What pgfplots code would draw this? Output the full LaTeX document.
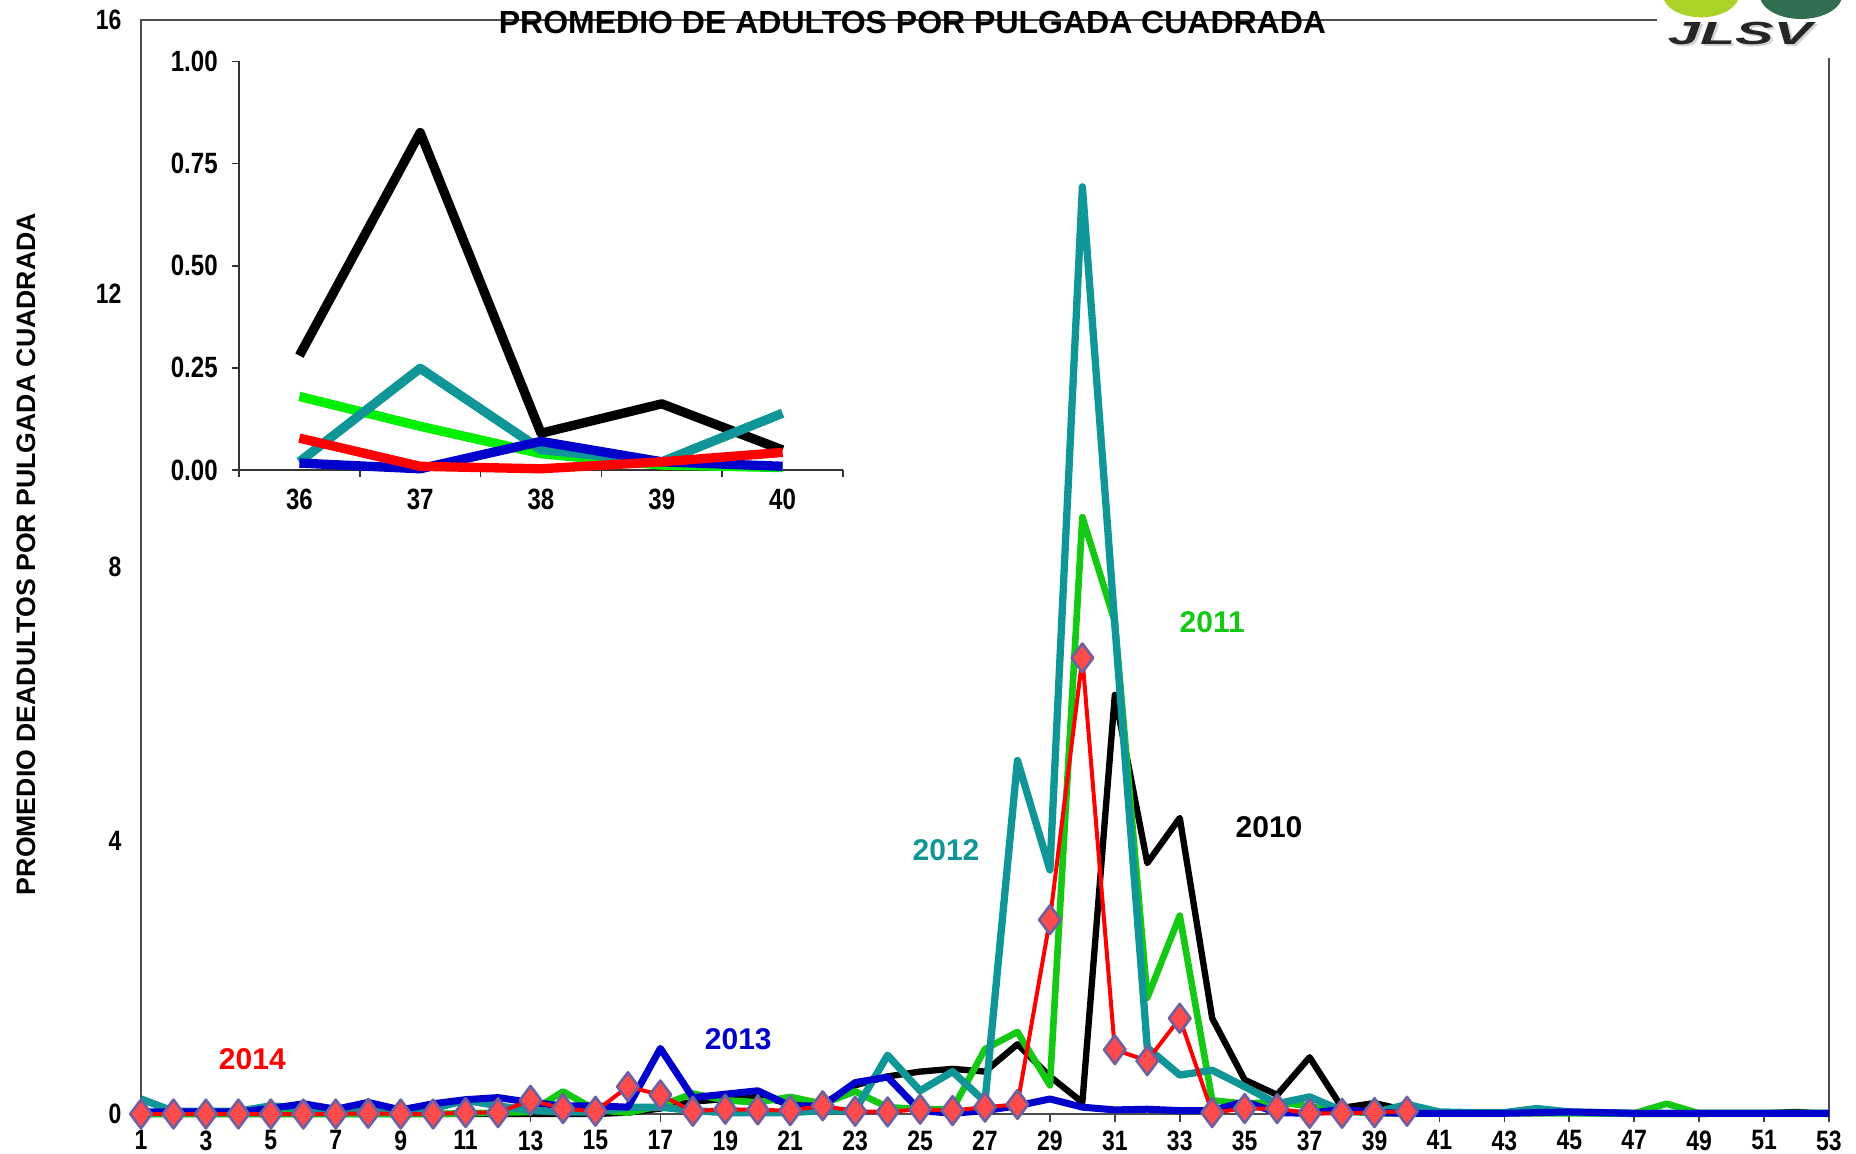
\documentclass[border=0pt]{standalone}
\usepackage{fontspec}
\setmainfont{Liberation Sans}
\newfontfamily\narrow[FakeStretch=0.82]{Liberation Sans}
\usepackage{graphicx}
\usepackage{pgfplots}
\usepackage{pgfplotstable}
\pgfplotsset{compat=1.18}

\definecolor{cK}{RGB}{0,0,0}
\definecolor{cG}{RGB}{20,200,20}
\definecolor{cGi}{RGB}{0,240,0}
\definecolor{cT}{RGB}{16,150,150}
\definecolor{cB}{RGB}{0,0,205}
\definecolor{cR}{RGB}{255,0,0}
\definecolor{dfill}{RGB}{255,75,75}
\definecolor{dedge}{RGB}{112,96,160}
\definecolor{lgreen}{RGB}{170,210,40}
\definecolor{dgreen}{RGB}{50,110,80}

\pgfplotstableread{
w  k    g    t     b    r
1  0.00 0.00 0.22  0.03 0.00
2  0.00 0.00 0.04  0.03 0.00
3  0.00 0.00 0.04  0.03 0.00
4  0.00 0.00 0.04  0.03 0.00
5  0.00 0.00 0.12  0.08 0.00
6  0.00 0.00 0.08  0.15 0.00
7  0.00 0.00 0.04  0.07 0.00
8  0.00 0.00 0.08  0.17 0.01
9  0.00 0.00 0.03  0.06 0.00
10 0.00 0.00 0.08  0.15 0.00
11 0.00 0.01 0.20  0.21 0.02
12 0.00 0.02 0.12  0.24 0.02
13 0.00 0.03 0.05  0.17 0.20
14 0.00 0.33 0.03  0.12 0.08
15 0.00 0.06 0.03  0.12 0.04
16 0.02 0.02 0.10  0.10 0.40
17 0.08 0.12 0.10  0.96 0.28
18 0.18 0.30 0.05  0.24 0.04
19 0.22 0.20 0.02  0.29 0.07
20 0.26 0.17 0.02  0.34 0.06
21 0.15 0.25 0.02  0.12 0.05
22 0.15 0.15 0.05  0.12 0.12
23 0.42 0.33 0.05  0.46 0.04
24 0.55 0.10 0.86  0.54 0.03
25 0.62 0.07 0.34  0.05 0.07
26 0.66 0.07 0.62  0.01 0.05
27 0.62 0.95 0.18  0.05 0.10
28 1.02 1.20 5.17  0.12 0.14
29 0.55 0.42 3.57  0.22 2.84
30 0.17 8.73 13.56 0.10 6.67
31 6.13 7.20 7.15  0.06 0.94
32 3.67 1.70 0.97  0.07 0.78
33 4.33 2.90 0.57  0.05 1.40
34 1.40 0.20 0.64  0.05 0.02
35 0.50 0.15 0.40  0.18 0.08
36 0.28 0.18 0.15  0.02 0.08
37 0.83 0.11 0.25  0.01 0.01
38 0.09 0.04 0.05  0.07 0.01
39 0.16 0.01 0.02  0.02 0.02
40 0.05 0.01 0.14  0.01 0.04
41 0.02 0.01 0.03  0.01 nan
42 0.01 0.01 0.02  0.01 nan
43 0.02 0.01 0.02  0.01 nan
44 0.02 0.01 0.08  0.02 nan
45 0.02 0.01 0.03  0.03 nan
46 0.01 0.01 0.02  0.02 nan
47 0.00 0.01 0.01  0.01 nan
48 0.00 0.15 0.01  0.01 nan
49 0.00 0.01 0.01  0.01 nan
50 0.01 0.01 0.01  0.01 nan
51 0.01 0.01 0.01  0.01 nan
52 0.03 0.01 0.01  0.01 nan
53 0.00 0.01 0.01  0.01 nan
}\maintab

\pgfplotstableread{
w  k     g     t     b     r
36 0.280 0.180 0.020 0.017 0.078
37 0.826 0.107 0.249 0.003 0.009
38 0.090 0.040 0.050 0.070 0.003
39 0.162 0.012 0.020 0.020 0.020
40 0.049 0.006 0.139 0.009 0.043
}\insettab

\begin{document}
\begin{tikzpicture}
\useasboundingbox (-42.3pt,-11.7pt) rectangle (514.5pt,334.2pt);
\begin{axis}[
  at={(0pt,0pt)}, anchor=south west, scale only axis,
  width=506.4pt, height=328.2pt,
  xmin=1, xmax=53, ymin=0, ymax=16,
  xtick={1,3,...,53}, ytick={0,4,8,12,16},
  xtick pos=bottom, ytick pos=left,
  xtick align=outside, ytick align=inside,
  major tick length=2.4pt,
  xtick style={draw=gray!50!black, line width=0.5pt},
  ytick style={draw=none},
  axis line style={draw=gray!60!black, line width=0.6pt},
  tick label style={font=\narrow\bfseries\fontsize{8.4}{9}\selectfont, inner sep=0pt},
  xticklabel style={yshift=-2.4pt},
  yticklabel style={xshift=-5.7pt},
  /pgf/number format/assume math mode=true,
  clip=false,
]
\addplot[cK, line width=1.9pt, line join=round] table[x=w,y=k]{\maintab};
\addplot[cG, line width=2.0pt, line join=round] table[x=w,y=g]{\maintab};
\addplot[cT, line width=2.2pt, line join=round] table[x=w,y=t]{\maintab};
\addplot[cB, line width=2.1pt, line join=round] table[x=w,y=b]{\maintab};
\addplot[cR, line width=1.2pt, line join=round, mark=diamond*, mark size=4.3pt,
  mark options={fill=dfill, draw=dedge, line width=0.8pt}] table[x=w,y=r]{\maintab};
\node[font=\bfseries\fontsize{9}{10}\selectfont, text=cR] at (axis cs:4.43,0.8) {2014};
\node[font=\bfseries\fontsize{9}{10}\selectfont, text=cB] at (axis cs:19.4,1.09) {2013};
\node[font=\bfseries\fontsize{9}{10}\selectfont, text=cT] at (axis cs:25.8,3.86) {2012};
\node[font=\bfseries\fontsize{9}{10}\selectfont, text=cG] at (axis cs:34.0,7.2) {2011};
\node[font=\bfseries\fontsize{9}{10}\selectfont, text=cK] at (axis cs:35.75,4.2) {2010};
\end{axis}

\begin{axis}[
  at={(29.4pt,193.2pt)}, anchor=south west, scale only axis,
  width=181.2pt, height=122.55pt,
  xmin=35.5, xmax=40.5, ymin=0, ymax=1,
  axis x line=bottom, axis y line=left,
  axis line style={-, draw=gray!40!black, line width=0.6pt},
  xtick={35.5,36.5,...,40.5}, x tick label as interval,
  xticklabels={36,37,38,39,40},
  ytick={0,0.25,0.5,0.75,1},
  tick align=outside, major tick length=2.2pt,
  tick style={draw=gray!40!black, line width=0.5pt},
  tick label style={font=\narrow\bfseries\fontsize{8.8}{9}\selectfont, inner sep=0pt},
  xticklabel style={yshift=-3.3pt},
  yticklabel style={xshift=-4pt, /pgf/number format/fixed, /pgf/number format/fixed zerofill, /pgf/number format/precision=2},
  /pgf/number format/assume math mode=true,
  clip=false,
]
\addplot[cK, line width=2.8pt, line join=round] table[x=w,y=k]{\insettab};
\addplot[cGi, line width=2.8pt, line join=round] table[x=w,y=g]{\insettab};
\addplot[cT, line width=2.8pt, line join=round] table[x=w,y=t]{\insettab};
\addplot[cB, line width=2.8pt, line join=round] table[x=w,y=b]{\insettab};
\addplot[cR, line width=2.8pt, line join=round] table[x=w,y=r]{\insettab};
\end{axis}

\node[font=\bfseries\fontsize{9.6}{10}\selectfont] at (231.45pt,327.45pt) {PROMEDIO DE ADULTOS POR PULGADA CUADRADA};
\node[rotate=90, font=\bfseries\fontsize{8}{9}\selectfont] at (-34.5pt,168pt) {PROMEDIO DEADULTOS POR PULGADA CUADRADA};

\begin{scope}
\clip (-42.3pt,-11.7pt) rectangle (514.5pt,334.2pt);
\fill[white] (454.8pt,316.8pt) rectangle (514.6pt,334.3pt);
\fill[lgreen] (468pt,336pt) ellipse (11.5pt and 7pt);
\fill[dgreen] (498pt,336pt) ellipse (12.5pt and 7.5pt);
\node[text=gray!35, font=\bfseries\itshape\fontsize{9.6}{10}\selectfont] at (480.4pt,323.6pt) {\scalebox{1.8}[1]{JLSV}};
\node[text=black!85, font=\bfseries\itshape\fontsize{9.6}{10}\selectfont] at (479.7pt,324.3pt) {\scalebox{1.8}[1]{JLSV}};
\end{scope}
\end{tikzpicture}
\end{document}
